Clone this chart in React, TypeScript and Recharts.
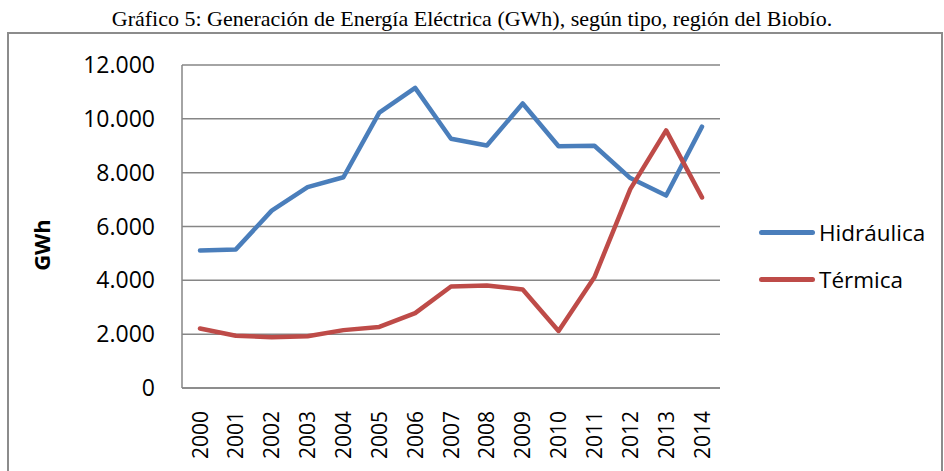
import { LineChart, Line, XAxis, YAxis, CartesianGrid, Legend } from "recharts";

const years = ["2000", "2001", "2002", "2003", "2004", "2005", "2006", "2007", "2008", "2009", "2010", "2011", "2012", "2013", "2014"];
const hidraulica = [5110, 5150, 6590, 7460, 7830, 10230, 11150, 9260, 9010, 10570, 8980, 9000, 7800, 7150, 9710];
const termica = [2210, 1940, 1890, 1920, 2150, 2270, 2780, 3770, 3810, 3660, 2120, 4110, 7390, 9570, 7080];
const yTicks = [0, 2000, 4000, 6000, 8000, 10000, 12000];

const series = [
  { key: "Hidráulica", color: "#4A7EBB", values: hidraulica },
  { key: "Térmica", color: "#BE4B48", values: termica },
];

const data = years.map((year, i) => {
  const row: Record<string, string | number> = { year };
  series.forEach((s) => (row[s.key] = s.values[i]));
  return row;
});

const FONT = "'Open Sans', 'Noto Sans', sans-serif";
const GRID = "#868686";

const fmt = (v: number) => String(v).replace(/\B(?=(\d{3})+(?!\d))/g, ".");

function YearTick({ x, y, payload }: { x?: number; y?: number; payload?: { value: string } }) {
  return (
    <g transform={`translate(${x},${(y ?? 0) + 15}) rotate(-90)`}>
      <text x={0} y={0} dy="0.36em" textAnchor="end" fill="#000" fontSize={21} fontFamily={FONT}>
        {payload?.value}
      </text>
    </g>
  );
}

function SideLegend() {
  return (
    <div style={{ fontFamily: FONT, fontSize: 22.5, color: "#000" }}>
      {series.map((s) => (
        <div key={s.key} style={{ display: "flex", alignItems: "center", height: 47 }}>
          <span style={{ display: "inline-block", width: 56, height: 5, borderRadius: 3, background: s.color, marginRight: 4 }} />
          <span>{s.key}</span>
        </div>
      ))}
    </div>
  );
}

export default function App() {
  return (
    <div style={{ position: "absolute", left: 0, top: 0, width: 944, height: 471, background: "#fff", overflow: "hidden" }}>
      <div
        style={{
          position: "absolute",
          left: 0,
          top: 7,
          width: 944,
          textAlign: "center",
          fontFamily: "'Liberation Serif', 'Times New Roman', serif",
          fontSize: 22,
          lineHeight: "24px",
        }}
      >
        Gráfico 5: Generación de Energía Eléctrica (GWh), según tipo, región del Biobío.
      </div>
      <div style={{ position: "absolute", left: 7, top: 32, width: 932, height: 460, border: "2px solid #8c8c8c" }} />
      <div style={{ position: "absolute", left: 0, top: 0 }}>
        <LineChart width={944} height={471} data={data} margin={{ top: 65, right: 224, left: 82, bottom: 13 }}>
          <CartesianGrid vertical={false} stroke={GRID} strokeWidth={1.5} />
          <XAxis
            dataKey="year"
            axisLine={{ stroke: GRID, strokeWidth: 1.5 }}
            tickLine={false}
            height={70}
            interval={0}
            padding={{ left: 18, right: 18 }}
            tick={<YearTick />}
          />
          <YAxis
            width={100}
            domain={[0, 12000]}
            ticks={yTicks}
            tickFormatter={fmt}
            axisLine={{ stroke: GRID, strokeWidth: 1.5 }}
            tickLine={false}
            tickSize={0}
            tickMargin={27}
            tick={{ fill: "#000", fontSize: 23, fontFamily: FONT }}
            label={{
              content: ({ viewBox }: { viewBox?: { x: number; y: number; height: number } }) => {
                const cx = (viewBox?.x ?? 0) - 40;
                const cy = 245;
                return (
                  <text x={cx} y={cy} transform={`rotate(-90, ${cx}, ${cy})`} textAnchor="middle" dy="0.36em" fontWeight="bold" fontSize={22} fontFamily={FONT} fill="#000">
                    GWh
                  </text>
                );
              },
            }}
          />
          <Legend
            layout="vertical"
            align="center"
            verticalAlign="middle"
            content={<SideLegend />}
            wrapperStyle={{ position: "absolute", left: 759, top: 209, width: 185 }}
          />
          {series.map((s) => (
            <Line
              key={s.key}
              type="linear"
              dataKey={s.key}
              stroke={s.color}
              strokeWidth={4.5}
              strokeLinejoin="round"
              strokeLinecap="round"
              dot={false}
              activeDot={false}
              isAnimationActive={false}
            />
          ))}
        </LineChart>
      </div>
    </div>
  );
}
